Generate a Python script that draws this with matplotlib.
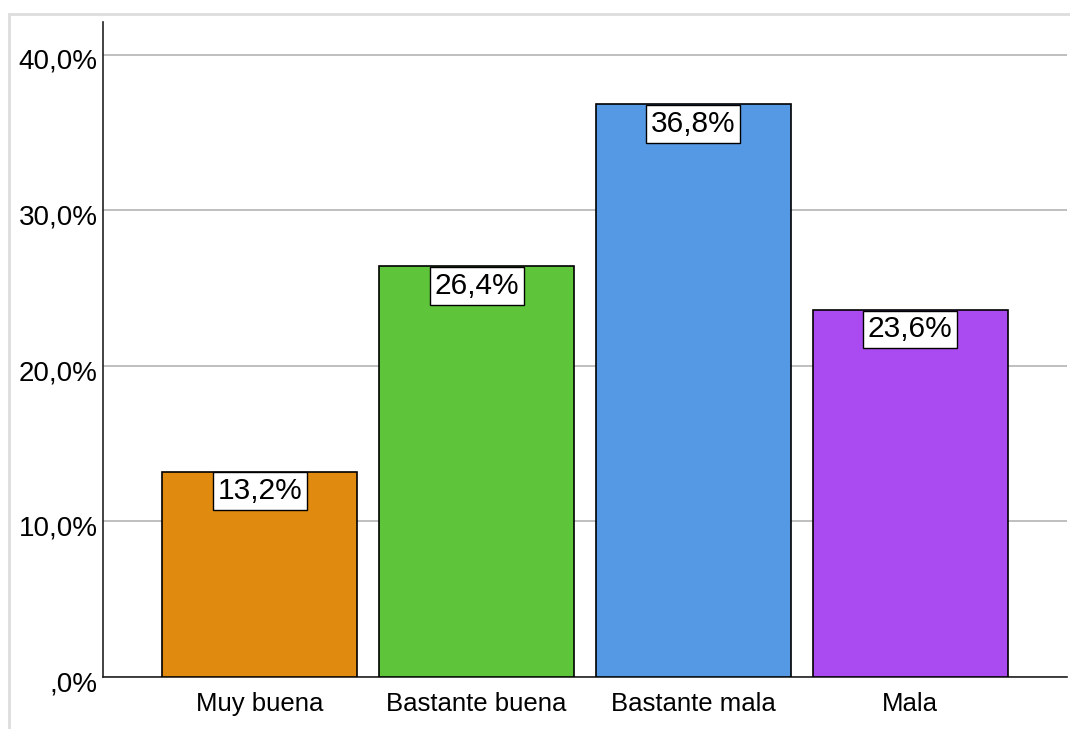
import matplotlib
matplotlib.use("Agg")
import matplotlib.pyplot as plt
from matplotlib.patches import Rectangle
from matplotlib.transforms import ScaledTranslation

categories = ["Muy buena", "Bastante buena", "Bastante mala", "Mala"]
percentages = [13.2, 26.4, 36.8, 23.6]
bar_colors = ["#e08a10", "#5ec43a", "#5598e4", "#a94bf1"]
y_ticks = [0, 10, 20, 30, 40]
y_tick_labels = [",0%", "10,0%", "20,0%", "30,0%", "40,0%"]

plt.rcParams["font.family"] = ["Liberation Sans Narrow", "Liberation Sans", "DejaVu Sans"]

fig = plt.figure(figsize=(10.7, 7.29), dpi=100)
W, H = 1070, 729

# light grey outer frame (SPSS style)
fig.patches.append(Rectangle((9 / W, -0.1), 1.2, 1 - 14 / H + 0.1, transform=fig.transFigure,
                             fill=False, edgecolor="#dddddd", linewidth=2))

ax = fig.add_axes([103 / W, (H - 677) / H, (1067 - 103) / W, (677 - 22) / H])
x = range(len(categories))
ax.bar(x, percentages, width=0.9, color=bar_colors, edgecolor="black", linewidth=1.2, zorder=3)

ax.set_xlim(-0.724, 3.724)
ax.set_ylim(0, 42.1)
ax.set_yticks(y_ticks)
ax.set_yticklabels(y_tick_labels, fontsize=20)
ax.set_xticks(list(x))
ax.set_xticklabels(categories, fontsize=18.5)
ax.tick_params(axis="y", length=0, pad=4)
ax.tick_params(axis="x", length=0, pad=11)
ax.grid(axis="y", color="#b4b4b4", linewidth=1.2, zorder=0)

# y labels sit a little below the gridline, like SPSS output
for lbl in ax.get_yticklabels():
    lbl.set_transform(lbl.get_transform() + ScaledTranslation(0, -3 / 72, fig.dpi_scale_trans))

for side in ["top", "right"]:
    ax.spines[side].set_visible(False)
ax.spines["left"].set_color("#222222")
ax.spines["bottom"].set_color("#222222")
ax.spines["left"].set_linewidth(1.2)
ax.spines["bottom"].set_linewidth(1.2)

for xi, v in zip(x, percentages):
    label = f"{v:.1f}%".replace(".", ",")
    ax.annotate(label, xy=(xi, v), xytext=(0, -4.0), textcoords="offset points",
                ha="center", va="top", fontsize=21.5, zorder=5,
                bbox=dict(boxstyle="square,pad=0.16", facecolor="white",
                          edgecolor="black", linewidth=1.0))

fig.savefig("out.png", dpi=100)
